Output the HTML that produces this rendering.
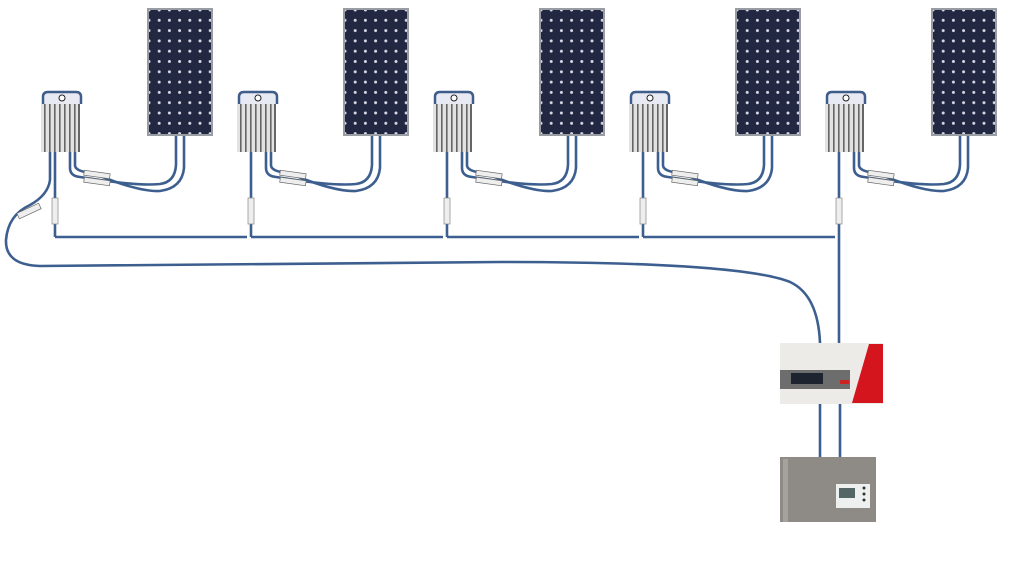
<!DOCTYPE html>
<html><head><style>html,body{margin:0;padding:0;background:#fff;}svg{display:block}</style></head>
<body>
<svg width="1012" height="564" viewBox="0 0 1012 564" xmlns="http://www.w3.org/2000/svg">
<defs>
<pattern id="cells" x="149" y="10" width="10.2" height="10.3" patternUnits="userSpaceOnUse">
<rect width="10.2" height="10.3" fill="#232842"/>
<circle cx="0" cy="0" r="1.5" fill="#d8dbe6"/><circle cx="10.2" cy="0" r="1.5" fill="#d8dbe6"/>
<circle cx="0" cy="10.3" r="1.5" fill="#d8dbe6"/><circle cx="10.2" cy="10.3" r="1.5" fill="#d8dbe6"/>
</pattern>
<g id="unit">
<rect x="147" y="8" width="66" height="128" fill="#9a9ca4"/>
<rect x="149" y="10" width="62" height="124" fill="url(#cells)"/>
<path d="M43 104 V97 Q43 92 48 92 H76 Q81 92 81 97 V104" fill="#e7eaf2" stroke="#3f5d8a" stroke-width="2.5"/>
<circle cx="62" cy="98" r="3" fill="#fff" stroke="#222" stroke-width="1"/>
<rect x="41" y="104" width="39" height="48" fill="#e2e2e2"/>
<g fill="#666"><rect x="44" y="104" width="1.6" height="48"/><rect x="49" y="104" width="1.6" height="48"/><rect x="54" y="104" width="1.6" height="48"/><rect x="59" y="104" width="1.6" height="48"/><rect x="64" y="104" width="1.6" height="48"/><rect x="69" y="104" width="1.6" height="48"/><rect x="74" y="104" width="1.6" height="48"/><rect x="78" y="104" width="2" height="48"/></g>
<g fill="none" stroke="#3d5f8f" stroke-width="2.6">
<path d="M70 152 V168 Q70 176 80 177 L100 180 Q140 186 160 184 Q175 182 176 165 V136"/>
<path d="M75 152 V165 Q75 170 85 172 L100 176 Q140 192 160 191 Q182 188 184 168 V136"/>
<path d="M55 152 V237"/>
</g>
<rect x="84" y="172" width="26" height="5" fill="#eee" stroke="#666" stroke-width="0.7" transform="rotate(8 97 174)"/>
<rect x="84" y="179" width="26" height="5" fill="#eee" stroke="#666" stroke-width="0.7" transform="rotate(8 97 181)"/>
<rect x="52" y="198" width="6" height="26" fill="#eee" stroke="#888" stroke-width="0.7"/>
</g>
</defs>
<use href="#unit"/>
<use href="#unit" x="196"/>
<use href="#unit" x="392"/>
<use href="#unit" x="588"/>
<use href="#unit" x="784"/>
<g fill="none" stroke="#3d5f8f" stroke-width="2.6">
<path d="M55 237 H247 M251 237 H443 M447 237 H639 M643 237 H835"/>
<path d="M839 237 V343"/>
<path d="M50 152 V180 Q48 195 30 205 Q8 215 6 240 Q5 265 40 266 L500 262 Q740 262 790 282 Q818 295 820 343"/>
<path d="M820 404 V457 M840 404 V457"/>
</g>
<rect x="17" y="208" width="24" height="6" fill="#eee" stroke="#666" stroke-width="0.7" transform="rotate(-25 29 211)"/>
<rect x="780" y="343" width="103" height="61" fill="#ecebe8"/>
<polygon points="869,344 883,344 883,403 852,403" fill="#d4151e"/>
<rect x="780" y="370" width="70" height="19" fill="#6d6d6d"/>
<rect x="791" y="373" width="32" height="11" fill="#1d2430"/>
<rect x="840" y="380" width="9" height="4" fill="#c22"/>
<rect x="780" y="457" width="96" height="65" fill="#8e8a86"/>
<rect x="783" y="459" width="5" height="63" fill="#a5a19d"/>
<rect x="836" y="484" width="34" height="24" fill="#eef0f0"/>
<rect x="839" y="488" width="16" height="10" fill="#566"/>
<circle cx="864" cy="488" r="1.5" fill="#333"/><circle cx="864" cy="494" r="1.5" fill="#333"/><circle cx="864" cy="500" r="1.5" fill="#333"/>
</svg>
</body></html>
